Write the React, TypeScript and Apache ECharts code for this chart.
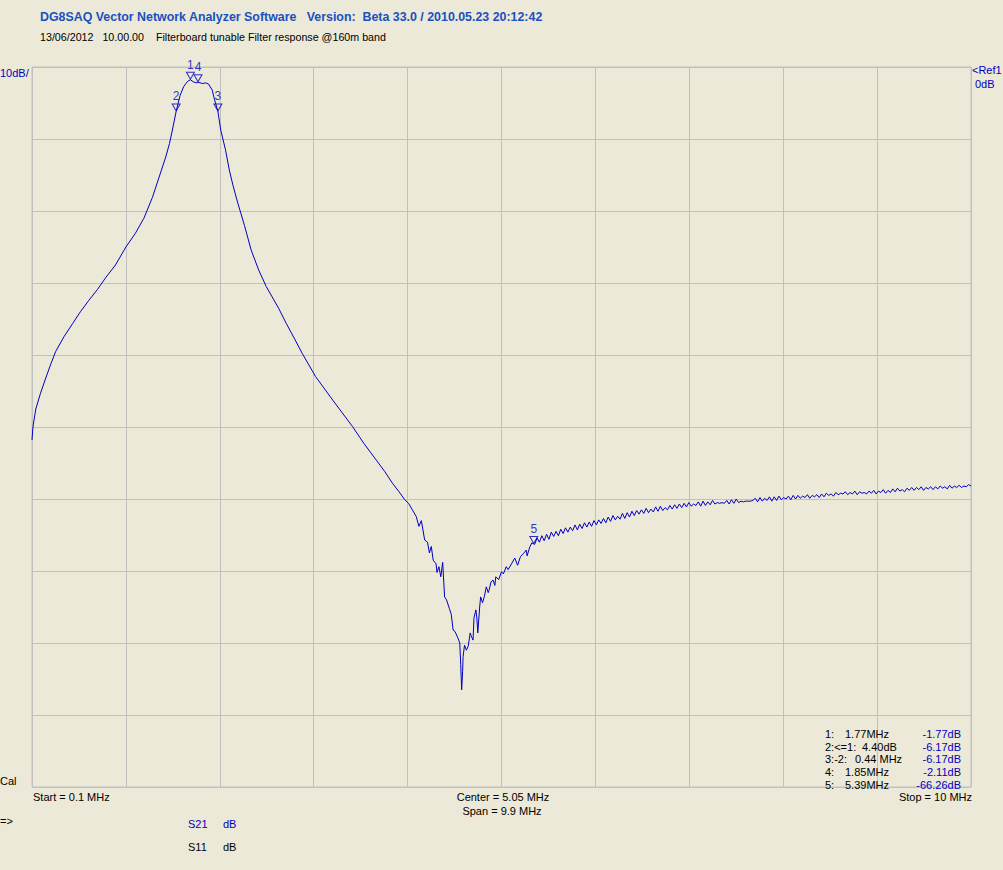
import React, { useEffect, useRef } from "react";
import * as echarts from "echarts";

// Sweep: 0.1 MHz .. 10 MHz, 10 dB/div, Ref 0 dB
const startMHz = 0.1;
const stopMHz = 10;
const refDb = 0;
const bottomDb = -100;

// S21 trace, passband and upper skirt (MHz, dB)
const passbandTrace: [number, number][] = [
  [0.1, -51.8], [0.11, -50.0], [0.14, -47.5], [0.19, -45.3], [0.245, -43.2], [0.30, -41.2],
  [0.35, -39.5], [0.44, -37.4], [0.53, -35.6], [0.61, -34.0], [0.70, -32.4], [0.79, -30.9],
  [0.88, -29.2], [0.98, -27.5], [1.09, -25.0], [1.19, -23.1], [1.28, -21.0], [1.37, -18.1],
  [1.44, -15.3], [1.51, -12.5], [1.55, -10.6], [1.58, -8.75], [1.62, -6.17], [1.66, -4.0],
  [1.70, -2.7], [1.74, -2.0], [1.77, -1.77], [1.80, -2.05], [1.83, -2.2], [1.85, -2.11],
  [1.90, -2.3], [1.93, -2.2], [1.96, -2.35], [2.00, -3.2], [2.02, -4.3], [2.06, -6.17],
  [2.09, -8.75], [2.14, -11.5], [2.18, -14.3], [2.22, -16.5], [2.27, -18.9], [2.34, -22.0],
  [2.41, -25.4], [2.49, -28.2], [2.57, -30.5], [2.70, -33.5], [2.78, -35.6], [2.87, -37.8],
  [2.95, -39.8], [3.09, -43.0], [3.27, -46.25], [3.48, -49.95], [3.60, -52.3], [3.73, -54.6],
  [3.82, -56.2], [3.90, -57.8], [3.97, -59.0], [4.03, -60.1],
];

// S21 trace, noisy notch region (MHz, dB)
const notchTrace: [number, number][] = [
  [4.07, -60.6], [4.11, -61.5], [4.15, -62.4], [4.18, -63.8], [4.205, -63.0], [4.24, -65.7],
  [4.27, -66.0], [4.29, -67.5], [4.31, -66.6], [4.33, -68.5], [4.36, -69.0], [4.37, -70.2],
  [4.39, -69.4], [4.41, -70.8], [4.43, -68.8], [4.45, -73.6], [4.47, -74.0], [4.50, -75.2],
  [4.52, -76.0], [4.54, -78.2], [4.56, -78.4], [4.59, -79.3], [4.61, -80.0], [4.62, -83.0],
  [4.63, -86.5], [4.64, -84.0], [4.645, -81.9], [4.66, -80.3], [4.68, -81.0], [4.70, -80.4],
  [4.72, -78.6], [4.73, -79.0], [4.75, -79.6], [4.76, -76.5], [4.78, -75.4], [4.79, -76.5],
  [4.80, -78.6], [4.82, -75.0], [4.83, -73.6], [4.85, -74.4], [4.87, -73.5], [4.89, -72.2],
  [4.91, -73.0], [4.92, -72.6], [4.94, -71.5], [4.96, -71.25], [4.98, -72.0], [4.99, -70.8],
  [5.02, -71.2], [5.05, -70.1], [5.07, -70.4], [5.10, -69.4], [5.12, -69.8], [5.16, -68.9],
  [5.19, -68.2], [5.22, -69.2], [5.25, -68.0], [5.28, -67.6], [5.31, -67.1], [5.32, -67.9],
  [5.35, -66.6], [5.37, -66.1],
];

// S21 trace tail, sweep points every 25 kHz from 5.40 MHz to 10.00 MHz (dB)
const tailStartMHz = 5.4;
const tailStepMHz = 0.025;
const tailDb: number[] = [
  -66.3, -65.4, -66.0, -65.1, -65.8, -64.9, -65.6, -64.6, -65.2, -64.5,
  -65.1, -64.2, -64.8, -64.0, -64.6, -63.9, -64.4, -63.6, -64.3, -63.5,
  -64.1, -63.3, -63.9, -63.2, -63.8, -63.0, -63.6, -62.9, -63.4, -62.7,
  -63.3, -62.5, -63.1, -62.3, -62.9, -62.4, -62.8, -62.0, -62.7, -61.9,
  -62.5, -61.7, -62.3, -61.6, -62.1, -61.5, -62.0, -61.3, -61.9, -61.4,
  -61.8, -61.1, -61.7, -61.0, -61.6, -61.2, -61.5, -60.9, -61.4, -60.8,
  -61.3, -60.7, -61.2, -60.6, -61.1, -60.5, -61.0, -60.7, -60.9, -60.4,
  -61.0, -60.3, -60.9, -60.4, -60.8, -60.2, -60.7, -60.5, -60.6, -60.5,
  -60.6, -60.2, -60.7, -60.1, -60.6, -60.0, -60.5, -60.3, -60.4, -60.3,
  -60.3, -60.3, -60.2, -59.9, -60.4, -59.8, -60.3, -59.9, -60.2, -59.7,
  -60.3, -59.7, -60.2, -59.6, -60.1, -59.8, -60.0, -59.6, -60.1, -59.5,
  -60.0, -59.5, -59.9, -59.6, -59.8, -59.4, -59.9, -59.5, -59.7, -59.4,
  -59.8, -59.3, -59.7, -59.2, -59.5, -59.3, -59.6, -59.1, -59.4, -59.2,
  -59.3, -59.0, -59.4, -59.1, -59.3, -58.9, -59.4, -59.0, -59.2, -59.1,
  -59.3, -58.9, -59.2, -58.8, -59.3, -58.9, -59.1, -58.7, -59.2, -58.8,
  -59.1, -58.6, -59.0, -58.5, -58.9, -58.7, -59.0, -58.5, -58.8, -58.4,
  -58.8, -58.4, -58.7, -58.3, -58.8, -58.4, -58.6, -58.3, -58.7, -58.3,
  -58.6, -58.2, -58.5, -58.3, -58.6, -58.1, -58.5, -58.2, -58.4, -58.1,
  -58.4, -58.2, -58.3, -58.0, -58.2,
];

// Markers
const markerNames = ["1", "2", "3", "4", "5"];
const markerMHz = [1.77, 1.62, 2.06, 1.85, 5.39];
const markerDb = [-1.77, -6.17, -6.17, -2.11, -66.26];

// Marker readout table
const tableIndex = ["1:", "2:<=1:", "3:-2:", "4:", "5:"];
const tableValue = ["1.77MHz", "4.40dB", "0.44 MHz", "1.85MHz", "5.39MHz"];
const tableValueX = [845, 862, 855, 845, 845];
const tableDb = ["-1.77dB", "-6.17dB", "-6.17dB", "-2.11dB", "-66.26dB"];

const BG = "#ECE9D8";
const GRID = "#C0C0C0";
const TRACE = "#0000C0";
const FONT = '"Liberation Sans", Arial, sans-serif';

export default function App() {
  const ref = useRef<HTMLDivElement>(null);

  useEffect(() => {
    if (!ref.current) return;
    const chart = echarts.init(ref.current, null, { renderer: "svg" });

    const trace: [number, number][] = [
      ...passbandTrace,
      ...notchTrace,
      ...tailDb.map((d, i) => [+(tailStartMHz + i * tailStepMHz).toFixed(3), d] as [number, number]),
    ];

    const txt = (text: string, x: number, y: number, fill: string, opts: any = {}) => ({
      type: "text",
      x,
      y,
      silent: true,
      z: 100,
      style: {
        text,
        fill,
        font: opts.font || `11px ${FONT}`,
        align: opts.align || "left",
        verticalAlign: "middle",
      },
    });

    const graphics: any[] = [
      txt("DG8SAQ Vector Network Analyzer Software   Version:  Beta 33.0 / 2010.05.23 20:12:42", 40, 17, "#1A50C0", {
        font: `bold 12.4px ${FONT}`,
      }),
      txt("13/06/2012   10.00.00    Filterboard tunable Filter response @160m band", 40, 37, "#000000", {
        font: `10.7px ${FONT}`,
      }),
      txt("10dB/", 0, 73, TRACE),
      txt("<Ref1", 972, 70, TRACE),
      txt("0dB", 975, 84, TRACE),
      txt("Cal", 0, 781, "#000000"),
      txt("Start = " + startMHz + " MHz", 33, 797, "#000000"),
      txt("Center = " + ((startMHz + stopMHz) / 2).toFixed(2) + " MHz", 503, 797, "#000000", { align: "center" }),
      txt("Span = " + (stopMHz - startMHz).toFixed(1) + " MHz", 502, 811, "#000000", { align: "center" }),
      txt("Stop = " + stopMHz + " MHz", 972, 797, "#000000", { align: "right" }),
      txt("=>", 0, 821, "#000000"),
      txt("S21", 188, 824, TRACE),
      txt("dB", 223, 824, TRACE),
      txt("S11", 188, 847, "#000000"),
      txt("dB", 223, 847, "#000000"),
    ];
    const rowY = [734, 746.5, 759, 771.5, 784.5];
    tableIndex.forEach((t, i) => {
      graphics.push(txt(t, 825, rowY[i], "#000000"));
      graphics.push(txt(tableValue[i], tableValueX[i], rowY[i], "#000000"));
      graphics.push(txt(tableDb[i], 961, rowY[i], TRACE, { align: "right" }));
    });

    chart.setOption({
      animation: false,
      backgroundColor: BG,
      grid: {
        left: 32,
        top: 67,
        width: 939,
        height: 720,
        show: true,
        borderColor: GRID,
        borderWidth: 1,
        backgroundColor: "transparent",
      },
      xAxis: [
        {
          type: "value",
          min: startMHz,
          max: stopMHz,
          show: false,
          splitLine: { show: false },
        },
        {
          type: "value",
          min: 0,
          max: 10,
          interval: 1,
          axisLine: { show: false },
          axisTick: { show: false },
          axisLabel: { show: false },
          splitLine: { show: true, lineStyle: { color: GRID, width: 1 } },
        },
      ],
      yAxis: {
        type: "value",
        min: bottomDb,
        max: refDb,
        interval: 10,
        axisLine: { show: false },
        axisTick: { show: false },
        axisLabel: { show: false },
        splitLine: { show: true, lineStyle: { color: GRID, width: 1 } },
      },
      series: [
        {
          type: "line",
          xAxisIndex: 0,
          data: trace,
          showSymbol: false,
          symbol: "none",
          silent: true,
          lineStyle: { color: TRACE, width: 1 },
          z: 5,
        },
        {
          type: "scatter",
          xAxisIndex: 0,
          silent: true,
          z: 6,
          symbol: "path://M0,0 L8,0 L4,7 Z",
          symbolSize: [8, 7],
          symbolOffset: [0, -4],
          itemStyle: { color: "rgba(0,0,0,0)", borderColor: TRACE, borderWidth: 1 },
          label: {
            show: true,
            position: "top",
            distance: 1,
            color: TRACE,
            fontSize: 12,
            fontFamily: FONT,
            formatter: (p: any) => p.data.name,
          },
          data: markerNames.map((n, i) => ({ name: n, value: [markerMHz[i], markerDb[i]] })),
        },
      ],
      graphic: graphics,
    });

    return () => chart.dispose();
  }, []);

  return (
    <div
      ref={ref}
      style={{ position: "fixed", left: 0, top: 0, width: 1003, height: 870, background: BG }}
    />
  );
}
